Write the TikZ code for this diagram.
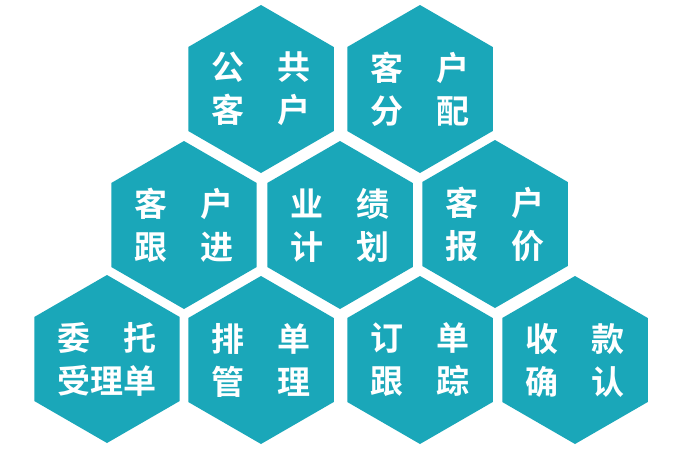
\documentclass[tikz,border=0pt]{standalone}
\usepackage{fontspec}
\newfontfamily\cjkbold{Noto Sans CJK SC Bold}
\usetikzlibrary{shapes.geometric}
\definecolor{hexteal}{HTML}{1AA7B9}
\begin{document}
\begin{tikzpicture}[x=1pt,y=-1pt,
    hexa/.style={regular polygon,regular polygon sides=6,shape border rotate=30,
      minimum size=168pt,inner sep=0pt,fill=hexteal,text=white,align=center,
      font=\cjkbold\fontsize{33}{43}\selectfont}]
      \useasboundingbox [fill=white] (0,0) rectangle (680,450);

      \coordinate (a1) at (261,89);
      \coordinate (a2) at (420,89);

      \coordinate (b1) at (184,225);
      \coordinate (b2) at (340,225);
      \coordinate (b3) at (495,224);

      \coordinate (c1) at (107,359);
      \coordinate (c2) at (261,360);
      \coordinate (c3) at (420,360);
      \coordinate (c4) at (575,360);

      \node [hexa] (gonggong) at (a1) {公　共\\客　户};
      \node [hexa] (fenpei) at (a2) {客　户\\分　配};

      \node [hexa] (genjin) at (b1) {客　户\\跟　进};
      \node [hexa] (jihua) at (b2) {业　绩\\计　划};
      \node [hexa] (baojia) at (b3) {客　户\\报　价};

      \node [hexa] (weituo) at (c1) {委　托\\受理单};
      \node [hexa] (paidan) at (c2) {排　单\\管　理};
      \node [hexa] (dingdan) at (c3) {订　单\\跟　踪};
      \node [hexa] (shoukuan) at (c4) {收　款\\确　认};
  \end{tikzpicture}
\end{document}
